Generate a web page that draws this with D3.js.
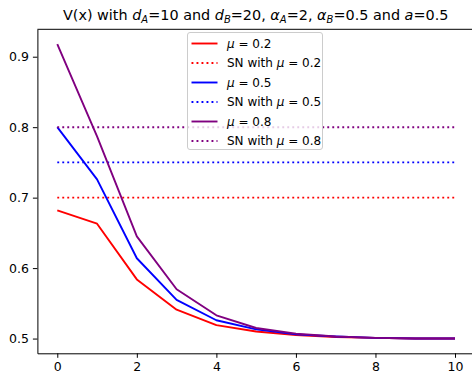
<!DOCTYPE html>
<html>
<head>
<meta charset="utf-8">
<script src="https://d3js.org/d3.v7.min.js"></script>
<style>
  body { margin: 0; background: #fff; }
  svg { display: block; font-family: "DejaVu Sans", sans-serif; }
</style>
</head>
<body>
<svg id="chart" width="472" height="373"></svg>
<script>
// data
var steps = [0, 1, 2, 3, 4, 5, 6, 7, 8, 9, 10];
var mu02 = [0.682, 0.663, 0.584, 0.541, 0.519, 0.510, 0.505, 0.502, 0.501, 0.500, 0.500];
var mu05 = [0.800, 0.726, 0.614, 0.555, 0.526, 0.513, 0.506, 0.503, 0.501, 0.500, 0.500];
var mu08 = [0.918, 0.787, 0.645, 0.570, 0.533, 0.515, 0.507, 0.503, 0.501, 0.500, 0.500];
var snLevels = [0.7, 0.75, 0.8];
var muLabels = ["0.2", "0.5", "0.8"];
var colors = ["#ff0000", "#0000ff", "#800080"];
var xTicks = [0, 2, 4, 6, 8, 10];
var yTicks = [0.5, 0.6, 0.7, 0.8, 0.9];

var svg = d3.select("#chart");
var axLeft = 37.4, axRight = 474.9, axTop = 29.3, axBottom = 353.3;

var all = mu02.concat(mu05, mu08, snLevels);
var lo = d3.min(all), hi = d3.max(all), pad = (hi - lo) * 0.05;

var x = d3.scaleLinear().domain([-0.5, 10.5]).range([axLeft, axRight]);
var y = d3.scaleLinear().domain([lo - pad, hi + pad]).range([axBottom, axTop]);

var series = [mu02, mu05, mu08];

var line = d3.line()
  .x(function(d, i) { return x(steps[i]); })
  .y(function(d) { return y(d); });

// solid V(x) lines and dotted SN levels
series.forEach(function(s, k) {
  svg.append("path")
    .attr("d", line(s))
    .attr("fill", "none")
    .attr("stroke", colors[k])
    .attr("stroke-width", 1.9)
    .attr("stroke-linejoin", "round");
  svg.append("line")
    .attr("x1", x(steps[0])).attr("x2", x(steps[steps.length - 1]))
    .attr("y1", y(snLevels[k])).attr("y2", y(snLevels[k]))
    .attr("stroke", colors[k])
    .attr("stroke-width", 1.9)
    .attr("stroke-dasharray", "1.9,3.1");
});

// axes
var xAxis = svg.append("g")
  .attr("transform", "translate(0," + axBottom + ")")
  .call(d3.axisBottom(x).tickValues(xTicks).tickSize(4.5).tickSizeOuter(0).tickPadding(4).tickFormat(d3.format("d")));
var yAxis = svg.append("g")
  .attr("transform", "translate(" + axLeft + ",0)")
  .call(d3.axisLeft(y).tickValues(yTicks).tickSize(4.5).tickSizeOuter(0).tickPadding(4).tickFormat(d3.format(".1f")));
[xAxis, yAxis].forEach(function(g) {
  g.select(".domain").attr("stroke", "#000").attr("stroke-width", 1);
  g.selectAll(".tick line").attr("stroke", "#000").attr("stroke-width", 1);
  g.selectAll(".tick text").attr("fill", "#000")
    .style("font-family", "DejaVu Sans").style("font-size", "12.5px");
});
// top spine
svg.append("line")
  .attr("x1", axLeft).attr("x2", axRight)
  .attr("y1", axTop).attr("y2", axTop)
  .attr("stroke", "#000").attr("stroke-width", 1);

// title
var title = svg.append("text")
  .attr("x", (axLeft + axRight) / 2 - 0.5).attr("y", 20)
  .attr("text-anchor", "middle")
  .style("font-size", "14.4px").attr("fill", "#000");
function part(t, txt, italic, sub) {
  var s = t.append("tspan").text(txt);
  if (italic) s.style("font-style", "italic");
  if (sub) s.attr("baseline-shift", "-25%").style("font-size", "10px");
  return s;
}
part(title, "V(x) with ");
part(title, "d", true); part(title, "A", true, true);
part(title, "=10 and ");
part(title, "d", true); part(title, "B", true, true);
part(title, "=20, ");
part(title, "α", true); part(title, "A", true, true);
part(title, "=2, ");
part(title, "α", true); part(title, "B", true, true);
part(title, "=0.5 and ");
part(title, "a", true);
part(title, "=0.5");

// legend
var lg = svg.append("g");
lg.append("rect")
  .attr("x", 187.5).attr("y", 32.5).attr("width", 135).attr("height", 117)
  .attr("rx", 2.5)
  .attr("fill", "#fff").attr("fill-opacity", 0.8)
  .attr("stroke", "#cccccc").attr("stroke-width", 1);
var rowY = d3.scaleLinear().domain([0, 5]).range([43.5, 141]);
for (var k = 0; k < 3; k++) {
  [0, 1].forEach(function(dotted) {
    var r = k * 2 + dotted;
    var yy = rowY(r);
    lg.append("line")
      .attr("x1", 191.5).attr("x2", 217.5)
      .attr("y1", yy).attr("y2", yy)
      .attr("stroke", colors[k]).attr("stroke-width", 1.9)
      .attr("stroke-dasharray", dotted ? "1.9,3.1" : null);
    var t = lg.append("text")
      .attr("x", 227).attr("y", yy + 4.3)
      .style("font-size", "12px").attr("fill", "#000");
    if (dotted) t.append("tspan").text("SN with ");
    t.append("tspan").text("μ").style("font-style", "italic");
    t.append("tspan").text(" = " + muLabels[k]);
  });
}
</script>
</body>
</html>
